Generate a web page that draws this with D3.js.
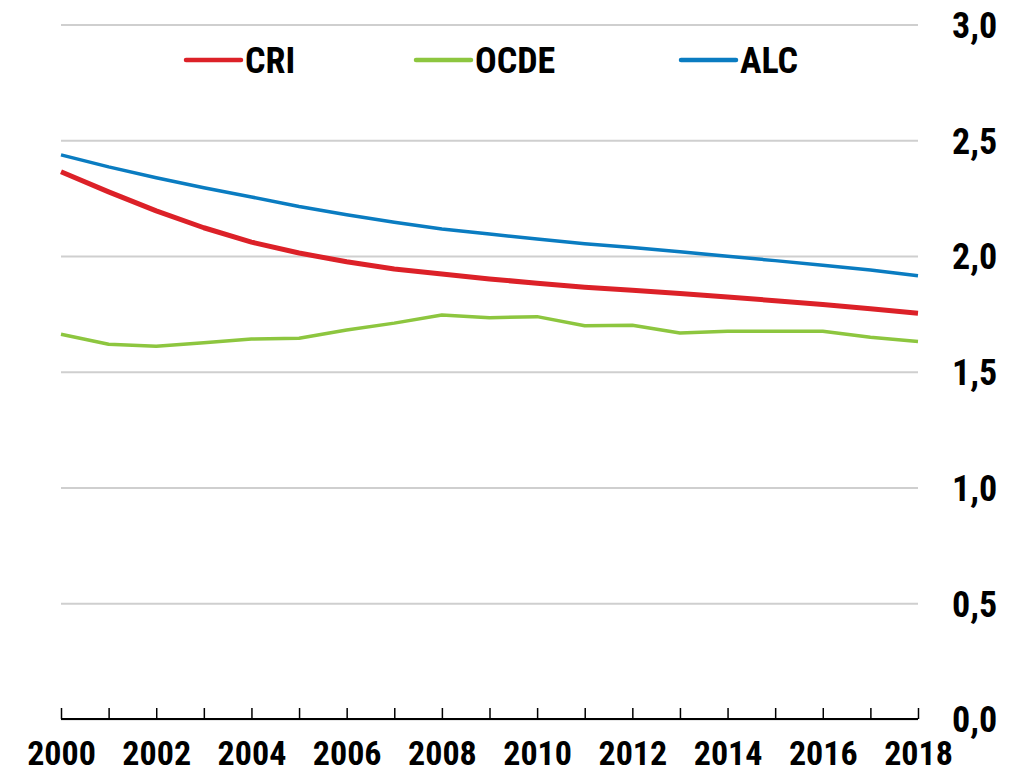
<!DOCTYPE html>
<html>
<head>
<meta charset="utf-8">
<script src="https://cdn.jsdelivr.net/npm/d3@7"></script>
<style>
  body { margin: 0; background: #fff; }
  svg text { font-family: "Liberation Sans Narrow", "Arial Narrow", "Roboto Condensed", sans-serif; font-weight: bold; fill: #000; }
</style>
</head>
<body>
<svg></svg>
<script>
var width = 1015, height = 774;
var margin = {top: 24.5, right: 97, bottom: 55, left: 61};

// data
var years = d3.range(2000, 2019);
var cri  = [2.364, 2.277, 2.195, 2.122, 2.060, 2.013, 1.975, 1.944, 1.922, 1.901, 1.882, 1.865, 1.852, 1.838, 1.823, 1.807, 1.790, 1.772, 1.753];
var ocde = [1.662, 1.619, 1.610, 1.625, 1.641, 1.645, 1.680, 1.710, 1.745, 1.733, 1.738, 1.699, 1.701, 1.667, 1.675, 1.675, 1.675, 1.649, 1.631];
var alc  = [2.437, 2.385, 2.338, 2.295, 2.255, 2.214, 2.178, 2.146, 2.117, 2.095, 2.073, 2.053, 2.037, 2.018, 1.999, 1.980, 1.960, 1.940, 1.915];
var yTicks = [0, 0.5, 1, 1.5, 2, 2.5, 3];
var xTickLabels = d3.range(2000, 2019, 2);
var seriesNames = ["CRI", "OCDE", "ALC"];
var seriesColors = ["#dc2128", "#8dc63f", "#0a7cc1"];
var seriesWidths = [5, 3.5, 3.5];

var series = [cri, ocde, alc];

var svg = d3.select("svg").attr("width", width).attr("height", height);
var g = svg.append("g");

var x = d3.scaleLinear()
    .domain([2000, 2018])
    .range([margin.left, width - margin.right]);
var y = d3.scaleLinear()
    .domain([0, 3])
    .range([height - margin.bottom, margin.top]);

// horizontal gridlines + right labels
g.append("g")
    .attr("transform", "translate(" + (width - margin.right) + ",0)")
    .call(d3.axisRight(y).tickValues(yTicks).tickSize(-(width - margin.right - margin.left))
        .tickPadding(34).tickFormat(function (d) { return d3.format(".1f")(d).replace(".", ","); }))
    .call(function (a) {
        a.select(".domain").remove();
        a.selectAll(".tick line").attr("stroke", "#cfcfcf").attr("stroke-width", 2);
        a.selectAll(".tick text").attr("font-size", 36).attr("text-anchor", "start").attr("dy", "0.36em");
    });

// x axis
g.append("g")
    .attr("transform", "translate(0," + y(0) + ")")
    .call(d3.axisBottom(x).tickValues(years).tickSize(-11).tickPadding(22)
        .tickFormat(function (d) { return xTickLabels.indexOf(d) >= 0 ? d : ""; }))
    .call(function (a) {
        a.select(".domain").attr("stroke", "#000").attr("stroke-width", 2).attr("d", "M" + x(2000) + ",0H" + x(2018));
        a.selectAll(".tick line").attr("stroke", "#000").attr("stroke-width", 1.5);
        a.selectAll(".tick text").attr("font-size", 34).attr("dy", "0.71em");
    });

var line = d3.line()
    .x(function (d, i) { return x(years[i]); })
    .y(function (d) { return y(d); });

// draw green, red, blue order
[1, 0, 2].forEach(function (k) {
    g.append("path")
        .datum(series[k])
        .attr("fill", "none")
        .attr("stroke", seriesColors[k])
        .attr("stroke-width", seriesWidths[k])
        .attr("stroke-linejoin", "round")
        .attr("d", line);
});

// legend
var legendX = [186, 416, 681];
var leg = g.selectAll(".leg").data(seriesNames).enter().append("g")
    .attr("transform", function (d, i) { return "translate(" + legendX[i] + ",60)"; });
leg.append("line")
    .attr("x1", 0).attr("x2", 55).attr("y1", 0).attr("y2", 0)
    .attr("stroke", function (d, i) { return seriesColors[i]; })
    .attr("stroke-width", 4.5)
    .attr("stroke-linecap", "round");
leg.append("text")
    .attr("x", 59).attr("y", 0).attr("dy", "0.36em")
    .attr("font-size", 36)
    .text(function (d) { return d; });
</script>
</body>
</html>
